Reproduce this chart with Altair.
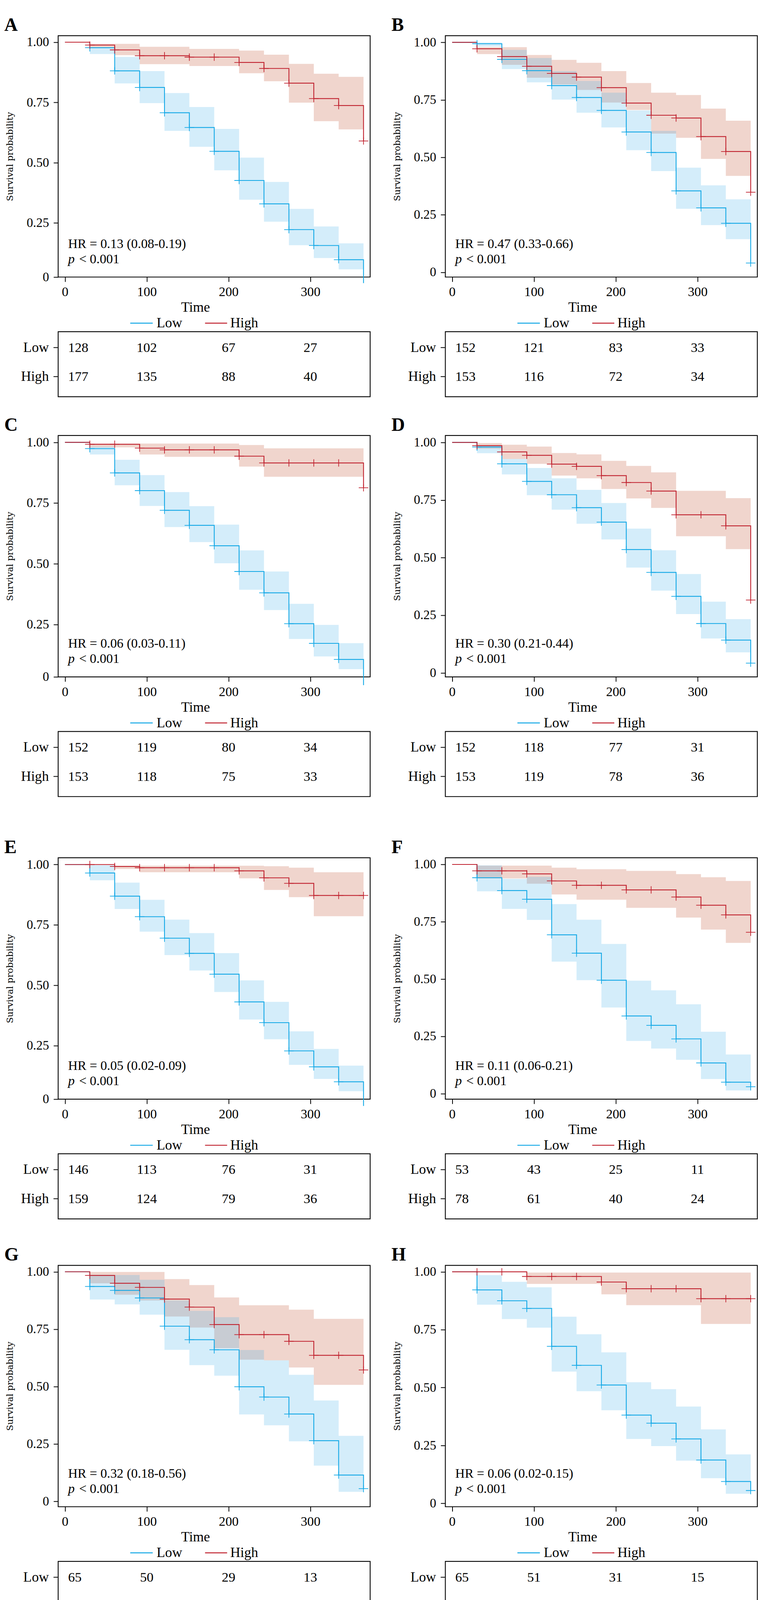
import altair as alt
import pandas as pd

# ---------------- data ----------------
MONTHS = [0, 30.4, 60.8, 91.3, 121.7, 152.1, 182.5, 212.9, 243.3, 273.8, 304.2, 334.6, 365]
RISK_TIMES = [0, 100, 200, 300]

A_BLUE_S = [1, .977, .881, .812, .707, .646, .547, .426, .329, .222, .156, .097, 0.0]
A_BLUE_LO = [1, .951, .829, .747, .632, .566, .468, .346, .255, .157, .104, .057]
A_BLUE_HI = [1, .977, .939, .880, .789, .731, .640, .521, .420, .308, .235, .165]
A_RED_S = [1, .988, .968, .944, .944, .938, .938, .916, .891, .830, .766, .737, .590]
A_RED_LO = [1, .977, .946, .909, .909, .901, .901, .871, .838, .749, .672, .638]
A_RED_HI = [1, .993, .993, .981, .981, .972, .972, .965, .948, .910, .869, .856]

B_BLUE_S = [1, .994, .926, .877, .812, .760, .704, .610, .521, .354, .280, .213, .040]
B_BLUE_LO = [1, .982, .884, .826, .751, .694, .630, .531, .440, .276, .205, .144]
B_BLUE_HI = [1, 1.0, .967, .932, .875, .832, .781, .704, .615, .455, .378, .317]
B_RED_S = [1, .972, .938, .896, .865, .849, .803, .736, .683, .671, .590, .525, .348]
B_RED_LO = [1, .949, .902, .846, .817, .793, .738, .706, .603, .585, .493, .419]
B_RED_HI = [1, .979, .979, .945, .924, .911, .875, .823, .781, .771, .712, .659]

C_BLUE_S = [1, .974, .874, .801, .720, .658, .574, .468, .380, .253, .172, .106, 0.0]
C_BLUE_LO = [1, .950, .823, .738, .651, .589, .502, .393, .309, .190, .118, .066]
C_BLUE_HI = [1, .982, .928, .865, .795, .737, .661, .555, .468, .335, .248, .173]
C_RED_S = [1, .992, .992, .976, .969, .969, .969, .943, .915, .915, .915, .915, .813]
C_RED_LO = [1, .979, .979, .950, .940, .940, .940, .900, .858, .858, .858, .858]
C_RED_HI = [1, .995, .995, .995, .995, .995, .995, .989, .975, .975, .975, .975]

D_BLUE_S = [1, .980, .907, .831, .773, .717, .654, .535, .436, .332, .214, .142, .042]
D_BLUE_LO = [1, .953, .861, .771, .708, .647, .579, .457, .357, .255, .149, .089]
D_BLUE_HI = [1, .987, .928, .889, .844, .794, .737, .626, .532, .429, .309, .233]
D_RED_S = [1, .986, .959, .944, .906, .896, .856, .826, .789, .686, .686, .638, .316]
D_RED_LO = [1, .973, .928, .907, .856, .844, .798, .757, .716, .593, .593, .537]
D_RED_HI = [1, .997, .990, .982, .954, .948, .920, .898, .870, .790, .790, .758]

E_BLUE_S = [1, .965, .869, .784, .695, .632, .546, .431, .345, .228, .162, .100, 0.0]
E_BLUE_LO = [1, .935, .816, .722, .625, .561, .472, .358, .276, .170, .112, .061]
E_BLUE_HI = [1, .997, .925, .854, .772, .716, .633, .520, .431, .309, .236, .167]
E_RED_S = [1, 1.0, .992, .987, .987, .987, .987, .974, .945, .922, .872, .872, .872]
E_RED_LO = [1, 1.0, .982, .968, .968, .968, .968, .943, .895, .865, .786, .786]
E_RED_HI = [1, 1.0, .995, .995, .995, .995, .995, .995, .993, .987, .968, .968]

F_BLUE_S = [1, .942, .886, .848, .693, .613, .495, .339, .298, .239, .134, .050, .030]
F_BLUE_LO = [1, .883, .806, .758, .576, .495, .376, .230, .197, .148, .064, .014]
F_BLUE_HI = [1, .996, .937, .946, .827, .759, .653, .493, .451, .390, .270, .171]
F_RED_S = [1, .972, .972, .959, .928, .909, .909, .889, .889, .858, .822, .780, .704]
F_RED_LO = [1, .939, .939, .916, .869, .846, .846, .811, .811, .768, .716, .658]
F_RED_HI = [1, .995, .995, .995, .986, .979, .979, .972, .972, .958, .944, .928]

G_BLUE_S = [1, .936, .919, .886, .763, .704, .660, .499, .454, .380, .264, .114, .055]
G_BLUE_LO = [1, .879, .858, .813, .660, .593, .547, .378, .331, .261, .155, .041]
G_BLUE_HI = [1, .987, .986, .965, .875, .830, .802, .659, .614, .551, .439, .285]
G_RED_S = [1, .984, .950, .932, .881, .846, .770, .726, .726, .697, .636, .636, .572]
G_RED_LO = [1, .950, .900, .875, .805, .757, .667, .617, .614, .583, .507, .507]
G_RED_HI = [1, .999, .999, .999, .968, .942, .888, .854, .854, .835, .795, .795]

H_BLUE_S = [1, .922, .875, .842, .678, .596, .511, .381, .346, .278, .187, .094, .055]
H_BLUE_LO = [1, .858, .796, .759, .569, .484, .402, .278, .247, .184, .108, .041]
H_BLUE_HI = [1, .986, .957, .933, .806, .730, .652, .523, .493, .418, .319, .211]
H_RED_S = [1, 1.0, 1.0, .980, .980, .980, .956, .927, .927, .927, .884, .884, .884]
H_RED_LO = [1, 1.0, 1.0, .948, .948, .948, .903, .856, .856, .856, .775, .775]
H_RED_HI = [1, 1.0, 1.0, .997, .997, .997, .997, .997, .997, .997, .997, .997]

I_BLUE_S = [1, .952, .903, .871, .757, .703, .615, .469, .429, .429, .303, .168, .112]
I_BLUE_LO = [1, .899, .837, .793, .655, .595, .502, .357, .320, .320, .201, .082]
I_BLUE_HI = [1, 1.0, .978, .901, .869, .825, .753, .618, .581, .581, .466, .344]
I_RED_S = [1, .967, .967, .951, .895, .856, .832, .805, .805, .676, .639, .600, .533]
I_RED_LO = [1, .927, .927, .901, .821, .767, .738, .702, .702, .544, .500, .458]
I_RED_HI = [1, .999, .997, .997, .976, .952, .941, .922, .922, .842, .816, .788]

J_BLUE_S = [1, .916, .865, .814, .673, .604, .514, .355, .320, .265, .144, .065, .022]
J_BLUE_LO = [1, .849, .784, .726, .564, .489, .401, .252, .225, .172, .074, .023]
J_BLUE_HI = [1, .987, .953, .918, .805, .742, .661, .501, .466, .410, .277, .180]
J_RED_S = [1, 1.0, 1.0, 1.0, .965, .944, .921, .921, .921, .891, .891, .842, .842]
J_RED_LO = [1, 1.0, 1.0, 1.0, .917, .884, .852, .852, .852, .802, .802, .723]
J_RED_HI = [1, 1.0, 1.0, 1.0, .996, .996, .996, .996, .996, .987, .987, .977]

K_BLUE_S = [1, .985, .963, .933, .862, .844, .827, .693, .693, .670, .548, .415, .415]
K_BLUE_LO = [1, .955, .926, .872, .790, .756, .733, .581, .581, .550, .422, .278]
K_BLUE_HI = [1, 1.0, 1.0, 1.0, .952, .939, .926, .831, .831, .813, .722, .612]
K_RED_S = [1, .939, .908, .893, .786, .709, .600, .535, .492, .415, .347, .305, .186]
K_RED_LO = [1, .885, .851, .825, .693, .600, .484, .414, .369, .291, .225, .185]
K_RED_HI = [1, .985, .980, .969, .899, .833, .751, .691, .651, .581, .525, .492]

A_RISK_LOW = [128, 102, 67, 27]
A_RISK_HIGH = [177, 135, 88, 40]
B_RISK_LOW = [152, 121, 83, 33]
B_RISK_HIGH = [153, 116, 72, 34]
C_RISK_LOW = [152, 119, 80, 34]
C_RISK_HIGH = [153, 118, 75, 33]
D_RISK_LOW = [152, 118, 77, 31]
D_RISK_HIGH = [153, 119, 78, 36]
E_RISK_LOW = [146, 113, 76, 31]
E_RISK_HIGH = [159, 124, 79, 36]
F_RISK_LOW = [53, 43, 25, 11]
F_RISK_HIGH = [78, 61, 40, 24]
G_RISK_LOW = [65, 50, 29, 13]
G_RISK_HIGH = [66, 54, 36, 22]
H_RISK_LOW = [65, 51, 31, 15]
H_RISK_HIGH = [66, 53, 34, 20]
I_RISK_LOW = [65, 53, 34, 17]
I_RISK_HIGH = [66, 51, 31, 18]
J_RISK_LOW = [60, 46, 29, 13]
J_RISK_HIGH = [71, 58, 36, 22]
K_RISK_LOW = [62, 54, 38, 23]
K_RISK_HIGH = [69, 50, 27, 12]

LETTERS = ["A", "B", "C", "D", "E", "F", "G", "H", "I", "J", "K"]
HR_TEXT = ["HR = 0.13 (0.08-0.19)", "HR = 0.47 (0.33-0.66)", "HR = 0.06 (0.03-0.11)",
           "HR = 0.30 (0.21-0.44)", "HR = 0.05 (0.02-0.09)", "HR = 0.11 (0.06-0.21)",
           "HR = 0.32 (0.18-0.56)", "HR = 0.06 (0.02-0.15)", "HR = 0.34 (0.19-0.60)",
           "HR = 0.07 (0.03-0.15)", "HR = 1.81 (1.08-3.04)"]
P_TEXT = ["< 0.001"] * 10 + ["< 0.024"]
LEGEND_BLUE = ["Low"] * 10 + ["High"]
LEGEND_RED = ["High"] * 10 + ["Low"]
Y_MIN = [0.025, -0.021, 0.034, -0.0175, 0.028, -0.024, -0.024, -0.015, 0.007, -0.026, 0.045]
Y_MAX = [1.027, 1.029, 1.028, 1.030, 1.028, 1.029, 1.028, 1.028, 1.027, 1.028, 1.021]

# ---------------- style ----------------
W, H = 805, 623
X_DOMAIN = [-8.3, 373.1]
FONT = "Liberation Serif"
BLUE = "#12A8E6"
RED = "#C0222F"
BLUE_FILL = "#3CADE8"
RED_FILL = "#BB401C"
PLUS = "M-1.3,0L1.3,0M0,-1L0,1"

SERIES = {
    "A": (A_BLUE_S, A_BLUE_LO, A_BLUE_HI, A_RED_S, A_RED_LO, A_RED_HI, A_RISK_LOW, A_RISK_HIGH),
    "B": (B_BLUE_S, B_BLUE_LO, B_BLUE_HI, B_RED_S, B_RED_LO, B_RED_HI, B_RISK_LOW, B_RISK_HIGH),
    "C": (C_BLUE_S, C_BLUE_LO, C_BLUE_HI, C_RED_S, C_RED_LO, C_RED_HI, C_RISK_LOW, C_RISK_HIGH),
    "D": (D_BLUE_S, D_BLUE_LO, D_BLUE_HI, D_RED_S, D_RED_LO, D_RED_HI, D_RISK_LOW, D_RISK_HIGH),
    "E": (E_BLUE_S, E_BLUE_LO, E_BLUE_HI, E_RED_S, E_RED_LO, E_RED_HI, E_RISK_LOW, E_RISK_HIGH),
    "F": (F_BLUE_S, F_BLUE_LO, F_BLUE_HI, F_RED_S, F_RED_LO, F_RED_HI, F_RISK_LOW, F_RISK_HIGH),
    "G": (G_BLUE_S, G_BLUE_LO, G_BLUE_HI, G_RED_S, G_RED_LO, G_RED_HI, G_RISK_LOW, G_RISK_HIGH),
    "H": (H_BLUE_S, H_BLUE_LO, H_BLUE_HI, H_RED_S, H_RED_LO, H_RED_HI, H_RISK_LOW, H_RISK_HIGH),
    "I": (I_BLUE_S, I_BLUE_LO, I_BLUE_HI, I_RED_S, I_RED_LO, I_RED_HI, I_RISK_LOW, I_RISK_HIGH),
    "J": (J_BLUE_S, J_BLUE_LO, J_BLUE_HI, J_RED_S, J_RED_LO, J_RED_HI, J_RISK_LOW, J_RISK_HIGH),
    "K": (K_BLUE_S, K_BLUE_LO, K_BLUE_HI, K_RED_S, K_RED_LO, K_RED_HI, K_RISK_LOW, K_RISK_HIGH),
}


def make_panel(i, U):
    letter = LETTERS[i]
    bS, bLo, bHi, rS, rLo, rHi, riskLow, riskHigh = SERIES[letter]
    ymin, ymax = Y_MIN[i], Y_MAX[i]
    one = pd.DataFrame({"k": [0]})

    xs = alt.Scale(domain=X_DOMAIN, nice=False, zero=False)
    ys = alt.Scale(domain=[ymin, ymax], nice=False, zero=False)
    xaxis = alt.Axis(values=[0, 100, 200, 300], format="d", title="Time",
                     titleFont=FONT, titleFontSize=36, titleFontWeight="normal",
                     titleColor="black", titleX=354, titleY=89, titleAlign="center",
                     titleBaseline="alphabetic", labelFont=FONT, labelFontSize=34,
                     labelColor="black", labelPadding=10, labelFlush=False,
                     tickSize=12, tickWidth=2, tickColor="black", domain=False, grid=False)
    yaxis = alt.Axis(values=[max(ymin, 0.0), 0.25, 0.5, 0.75, 1.0],
                     labelExpr="datum.value < 0.1 ? '0' : format(datum.value, '.2f')",
                     title="Survival probability", titleFont="DejaVu Serif",
                     titleFontSize=23, titleFontWeight="normal", titleColor="black",
                     titleX=-124.5, titleY=H / 2, titleAngle=270, titleAlign="center",
                     titleBaseline="middle", labelFont=FONT, labelFontSize=33,
                     labelColor="black", labelPadding=12, labelFlush=False,
                     tickSize=12, tickWidth=2, tickColor="black", domain=False, grid=False)
    X = alt.X("t:Q", scale=xs, axis=xaxis)

    def band(lo, hi, col):
        df = pd.DataFrame({"t": MONTHS, "lo": list(lo) + [lo[-1]], "hi": list(hi) + [hi[-1]]})
        return alt.Chart(df).mark_area(interpolate="step-after", color=col, opacity=0.22).encode(
            x=X, y=alt.Y("lo:Q", scale=ys, axis=yaxis), y2="hi:Q")

    def line(s, col):
        df = pd.DataFrame({"t": MONTHS, "s": s})
        return alt.Chart(df).mark_line(interpolate="step-after", color=col, strokeWidth=2.2).encode(
            x=X, y=alt.Y("s:Q", scale=ys, axis=yaxis))

    def cens(s, col):
        pts = [(t, v) for t, v in zip(MONTHS[1:], s[1:]) if v > 0]
        df = pd.DataFrame({"t": [p[0] for p in pts], "s": [p[1] for p in pts]})
        return alt.Chart(df).mark_point(shape=PLUS, size=361, filled=False, color=col,
                                        strokeWidth=1.8, opacity=1).encode(
            x=X, y=alt.Y("s:Q", scale=ys, axis=yaxis))

    def txt(text, x, y, size, **kw):
        return alt.Chart(one).mark_text(text=text, font=FONT, fontSize=size, color="black",
                                        **kw).encode(x=alt.value(x), y=alt.value(y))

    def hrule(x1, x2, y, col):
        return alt.Chart(one).mark_rule(color=col, strokeWidth=2.5).encode(
            x=alt.value(x1), x2=alt.value(x2), y=alt.value(y))

    box = alt.Chart(one).mark_rect(opacity=0).encode(
        x=alt.value(-140), x2=alt.value(W + 2), y=alt.value(-U), y2=alt.value(H + 311))

    if LEGEND_BLUE[i] == "Low":
        lx = (186, 244, 254, 379, 436, 444)
    else:
        lx = (186, 244, 252, 389, 445, 455)

    km_layers = [
        band(rLo, rHi, RED_FILL), band(bLo, bHi, BLUE_FILL),
        line(bS, BLUE), line(rS, RED), cens(bS, BLUE), cens(rS, RED),
        txt(HR_TEXT[i], 25.6, H - 75, 34, align="left", baseline="alphabetic"),
        txt("p", 25.6, H - 36, 34, align="left", baseline="alphabetic", fontStyle="italic"),
        txt(P_TEXT[i], 54, H - 36, 34, align="left", baseline="alphabetic"),
        txt(letter, -139, -12, 48, align="left", baseline="alphabetic", fontWeight="bold"),
        hrule(lx[0], lx[1], H + 119, BLUE),
        txt(LEGEND_BLUE[i], lx[2], H + 130, 36, align="left", baseline="alphabetic"),
        hrule(lx[3], lx[4], H + 119, RED),
        txt(LEGEND_RED[i], lx[5], H + 130, 36, align="left", baseline="alphabetic"),
        box,
    ]
    km = alt.layer(*km_layers)

    xt = alt.Scale(domain=X_DOMAIN, nice=False, zero=False)
    yt = alt.Scale(domain=[0, 1], range=[H + 257, H + 182], nice=False, zero=False)
    frame_df = pd.DataFrame({"x1": [X_DOMAIN[0]], "x2": [X_DOMAIN[1]], "y1": [1.547], "y2": [-0.693]})
    frame = alt.Chart(frame_df).mark_rect(filled=False, color="black", strokeWidth=2.2).encode(
        x=alt.X("x1:Q", scale=xt, axis=None), x2="x2:Q",
        y=alt.Y("y1:Q", scale=yt, axis=None), y2="y2:Q")
    nums = pd.DataFrame({"t": RISK_TIMES * 2, "row": [1] * 4 + [0] * 4,
                         "n": list(riskLow) + list(riskHigh)})
    first = alt.Chart(nums[nums.t == 0]).mark_text(
        align="left", dx=8, baseline="middle", font=FONT, fontSize=35, color="black").encode(
        x=alt.X("t:Q", scale=xt, axis=None), y=alt.Y("row:Q", scale=yt, axis=None), text="n:Q")
    rest = alt.Chart(nums[nums.t > 0]).mark_text(
        align="center", baseline="middle", font=FONT, fontSize=35, color="black").encode(
        x=alt.X("t:Q", scale=xt, axis=None), y=alt.Y("row:Q", scale=yt, axis=None), text="n:Q")
    labs = pd.DataFrame({"row": [1, 0], "lab": ["Low", "High"]})
    rowlab = alt.Chart(labs).mark_text(
        align="right", baseline="middle", font=FONT, fontSize=36, color="black").encode(
        x=alt.value(-24), y=alt.Y("row:Q", scale=yt, axis=None), text="lab:N")
    rowtick = alt.Chart(labs).mark_rule(color="black", strokeWidth=2).encode(
        x=alt.value(-12), x2=alt.value(-1), y=alt.Y("row:Q", scale=yt, axis=None))
    tab = alt.layer(frame, first, rest, rowlab, rowtick)

    return alt.layer(km, tab).resolve_scale(x="independent", y="independent").properties(
        width=W, height=H)


ROWS = [[0, 1], [2, 3], [4, 5], [6, 7], [8, 9], [10]]
ROW_TOP = [56, 94, 152, 114, 144, 113]

row_charts = []
for r, idxs in enumerate(ROWS):
    ps = [make_panel(i, ROW_TOP[r]) for i in idxs]
    row_charts.append(alt.hconcat(*ps, spacing=48) if len(ps) > 1 else ps[0])

chart = alt.vconcat(*row_charts, spacing=0).properties(
    padding=0, background="white").configure_view(stroke="black", strokeWidth=2.2)

chart.save("out.html", embed_options={"renderer": "svg", "actions": False})
